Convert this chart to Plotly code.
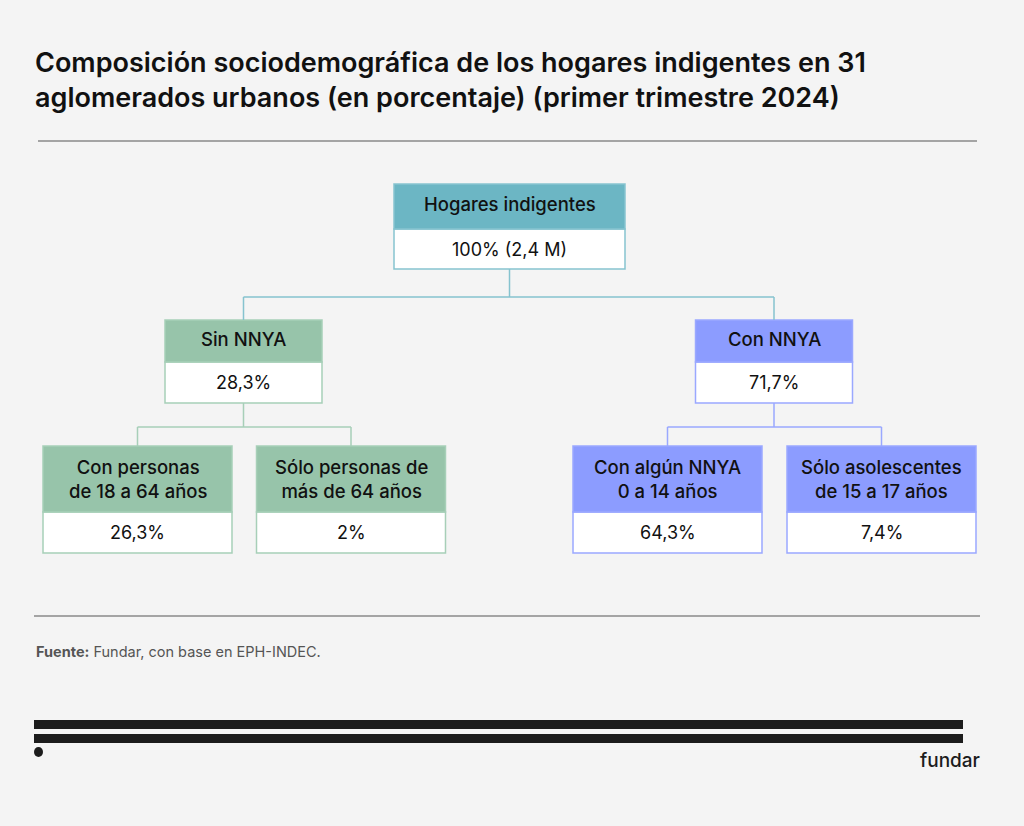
import plotly.graph_objects as go

# Tree data
labels = ["Hogares indigentes", "Sin NNYA", "Con NNYA",
          "Con personas<br>de 18 a 64 años", "Sólo personas de<br>más de 64 años",
          "Con algún NNYA<br>0 a 14 años", "Sólo asolescentes<br>de 15 a 17 años"]
values = ["100% (2,4 M)", "28,3%", "71,7%", "26,3%", "2%", "64,3%", "7,4%"]
parents = [None, 0, 0, 1, 1, 2, 2]
levels = [0, 1, 1, 2, 2, 2, 2]
branch = ["root", "sin", "con", "sin", "sin", "con", "con"]

title = ("Composición sociodemográfica de los hogares indigentes en 31<br>"
         "aglomerados urbanos (en porcentaje) (primer trimestre 2024)")
source = "<b>Fuente:</b> Fundar, con base en EPH-INDEC."

# layout of the diagram (pixel space)
node_cx = [509.5, 243.5, 774, 137.5, 351, 667.5, 881.5]
level_w = {0: 231, 1: 157, 2: 189}
level_rows = {0: (184, 229, 269), 1: (320, 362, 403), 2: (446, 512, 553)}
bus_y = {0: 297, 1: 427}

fill = {"root": "#6cb6c4", "sin": "#97c4aa", "con": "#8c9cff"}
edge = {"root": "#86c3cf", "sin": "#a7cfb8", "con": "#9aa8ff"}
BG = "#f4f4f4"
FONT = "Inter"

fig = go.Figure()
shapes = []
annos = []

# boxes
for i, lab in enumerate(labels):
    lv = levels[i]
    top, mid, bot = level_rows[lv]
    w = level_w[lv]
    x0, x1 = node_cx[i] - w / 2, node_cx[i] + w / 2
    b = branch[i]
    shapes.append(dict(type="rect", x0=x0, x1=x1, y0=mid, y1=bot,
                       fillcolor="white", line=dict(color=edge[b], width=1.5)))
    shapes.append(dict(type="rect", x0=x0, x1=x1, y0=top, y1=mid,
                       fillcolor=fill[b], line=dict(color=edge[b], width=1.5)))
    shift = 0 if "<br>" in lab else -2.5
    annos.append(dict(x=node_cx[i], y=(top + mid) / 2 + shift, text=lab, showarrow=False,
                      font=dict(family=FONT, size=18.5, color="#111111", weight=500)))
    annos.append(dict(x=node_cx[i], y=(mid + bot) / 2, text=values[i], showarrow=False,
                      font=dict(family=FONT, size=18, color="#111111")))

# connectors
for p in sorted(set(x for x in parents if x is not None)):
    kids = [k for k, q in enumerate(parents) if q == p]
    lv = levels[p]
    col = edge[branch[p]]
    by = bus_y[lv]
    pbot = level_rows[lv][2]
    ktop = level_rows[lv + 1][0]
    ln = dict(color=col, width=1.5)
    shapes.append(dict(type="line", x0=node_cx[p], x1=node_cx[p], y0=pbot, y1=by, line=ln))
    xs = [node_cx[k] for k in kids]
    shapes.append(dict(type="line", x0=min(xs), x1=max(xs), y0=by, y1=by, line=ln))
    for k in kids:
        shapes.append(dict(type="line", x0=node_cx[k], x1=node_cx[k], y0=by, y1=ktop, line=ln))

# rules and footer decoration
shapes.append(dict(type="line", x0=38, x1=977, y0=141, y1=141, line=dict(color="#555555", width=1.2)))
shapes.append(dict(type="line", x0=34, x1=980, y0=616, y1=616, line=dict(color="#555555", width=1.2)))
shapes.append(dict(type="rect", x0=34, x1=963, y0=720, y1=729, fillcolor="#1c1c1c", line=dict(width=0)))
shapes.append(dict(type="rect", x0=34, x1=963, y0=734, y1=743, fillcolor="#1c1c1c", line=dict(width=0)))
shapes.append(dict(type="circle", x0=34, x1=43, y0=747, y1=757, fillcolor="#1c1c1c", line=dict(width=0)))

annos.append(dict(x=33, y=80, text=title, showarrow=False, xanchor="left", yanchor="middle",
                  align="left", font=dict(family=FONT, size=27, color="#111111", weight=600)))
annos.append(dict(x=34, y=651, text=source, showarrow=False, xanchor="left", yanchor="middle",
                  font=dict(family=FONT, size=14.5, color="#555555")))
annos.append(dict(x=982, y=760, text="fundar", showarrow=False, xanchor="right", yanchor="middle",
                  font=dict(family=FONT, size=19, color="#1c1c1c", weight=500)))

fig.update_layout(
    width=1024, height=826,
    margin=dict(l=0, r=0, t=0, b=0),
    paper_bgcolor=BG, plot_bgcolor=BG,
    shapes=shapes, annotations=annos,
    xaxis=dict(range=[0, 1024], visible=False, fixedrange=True),
    yaxis=dict(range=[826, 0], visible=False, fixedrange=True),
    showlegend=False,
)

fig.write_html("out.html", config={"displayModeBar": False},
               post_script="document.body.style.margin='0';document.body.style.background='%s';" % BG)
